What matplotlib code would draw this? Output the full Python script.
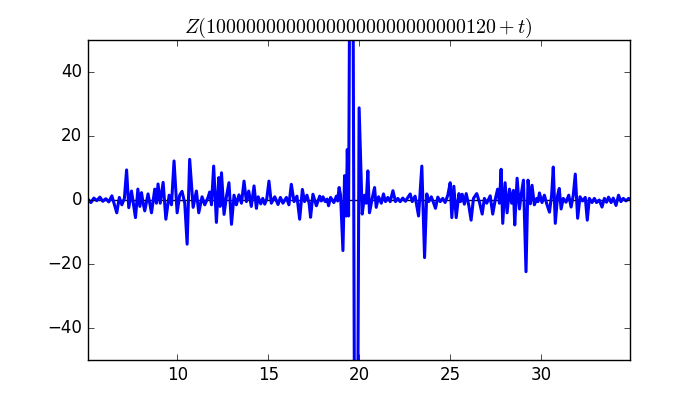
import matplotlib
matplotlib.use("Agg")
import matplotlib.pyplot as plt

# values (t, Z)
t = [5.08, 5.25, 5.41, 5.57, 5.74, 5.90, 6.07, 6.23, 6.40, 6.54,
     6.67, 6.81, 6.95, 7.09, 7.21, 7.33, 7.48, 7.58, 7.70, 7.83,
     7.94, 8.03, 8.12, 8.21, 8.39, 8.58, 8.76, 8.85, 8.94, 9.06,
     9.22, 9.37, 9.55, 9.68, 9.82, 9.99, 10.13, 10.26, 10.41, 10.54,
     10.68, 10.87, 11.05, 11.18, 11.36, 11.51, 11.69, 11.78, 11.88, 12.00,
     12.15, 12.28, 12.35, 12.43, 12.57, 12.70, 12.84, 12.98, 13.12, 13.25,
     13.39, 13.53, 13.67, 13.80, 13.93, 14.07, 14.22, 14.35, 14.45, 14.59,
     14.70, 14.81, 14.92, 15.04, 15.17, 15.36, 15.54, 15.67, 15.81, 16.00,
     16.14, 16.27, 16.42, 16.58, 16.73, 16.88, 17.00, 17.13, 17.25, 17.33,
     17.46, 17.65, 17.83, 17.92, 18.01, 18.14, 18.24, 18.32, 18.43, 18.61,
     18.75, 18.82, 18.90, 18.98, 19.11, 19.20, 19.29, 19.35, 19.42, 19.59,
     19.82, 20.00, 20.17, 20.30, 20.39, 20.48, 20.57, 20.72, 20.85, 20.94,
     21.07, 21.22, 21.34, 21.45, 21.58, 21.71, 21.86, 22.00, 22.13, 22.26,
     22.40, 22.55, 22.68, 22.81, 22.92, 23.08, 23.27, 23.45, 23.60, 23.72,
     23.83, 23.97, 24.09, 24.20, 24.33, 24.46, 24.60, 24.73, 24.88, 25.01,
     25.10, 25.21, 25.34, 25.49, 25.58, 25.67, 25.79, 25.89, 26.03, 26.16,
     26.29, 26.47, 26.62, 26.77, 26.89, 27.02, 27.21, 27.35, 27.50, 27.62,
     27.72, 27.81, 27.90, 28.03, 28.14, 28.27, 28.39, 28.49, 28.56, 28.69,
     28.82, 28.91, 29.04, 29.18, 29.29, 29.42, 29.51, 29.64, 29.77, 29.84,
     29.92, 30.06, 30.19, 30.32, 30.47, 30.59, 30.68, 30.79, 30.92, 31.01,
     31.11, 31.23, 31.38, 31.53, 31.66, 31.78, 31.89, 32.02, 32.15, 32.29,
     32.44, 32.55, 32.66, 32.81, 32.94, 33.06, 33.21, 33.36, 33.49, 33.61,
     33.72, 33.86, 33.98, 34.13, 34.27, 34.40, 34.53, 34.68, 34.82, 34.92]

z = [0.3, -0.8, 0.6, -0.2, 0.9, -0.4, 0.4, -0.6, 1.3, -1.5,
     -4.0, 0.8, -1.5, 0.5, 9.4, -2.4, 2.8, -1.0, -5.5, 3.4,
     -2.0, 2.3, -1.0, -3.4, 1.9, -4.0, 3.4, -1.0, 5.0, -1.0,
     5.5, -6.0, 1.5, -1.5, 12.2, -4.0, 1.5, 2.7, -1.0, -13.8,
     12.7, -2.3, 2.8, -4.0, 1.0, -1.5, 0.8, 2.5, -1.5, 10.6,
     -7.0, 7.0, -2.0, 8.5, -4.5, 1.0, 5.4, -7.6, 1.5, -1.5,
     1.6, -1.0, 5.9, -0.5, 2.8, -2.0, 4.4, -2.6, 1.0, -1.2,
     0.5, -1.3, 0.3, 5.9, -1.0, 1.0, -1.4, 0.8, -1.0, 0.8,
     -1.5, 4.9, -0.5, 1.2, -6.0, 3.3, -0.5, 1.5, -1.0, -5.4,
     1.8, -1.8, 1.2, -0.3, 1.0, -0.5, 0.3, -1.8, 0.8, -0.8,
     1.2, -0.3, 3.9, 1.5, -15.8, 7.6, -5.0, 15.8, -5.0, 200.0,
     -200.0, 28.8, -4.4, 1.5, -1.0, 9.1, -4.0, 0.5, 3.9, -2.3,
     1.0, -1.0, 1.9, -0.5, 0.8, -0.5, 2.9, -0.5, 0.5, -0.5,
     0.6, -0.4, 0.8, 1.9, -0.5, 1.2, -5.0, 10.6, -18.0, 1.9,
     -0.5, 1.0, -0.8, -2.6, 0.9, -0.5, 0.5, -0.8, 1.5, 5.4,
     -5.5, 4.3, -5.5, 2.0, -0.5, 1.8, -1.3, 2.0, -1.6, -6.3,
     0.5, 2.0, -0.7, -4.4, 0.5, -1.0, 1.3, -4.4, 0.5, 3.4,
     -1.0, 9.6, -7.3, 5.4, -4.0, 3.4, -1.0, 3.0, -7.8, 6.8,
     -2.8, 1.5, 6.2, -22.4, 6.2, -1.2, 4.6, -1.5, 0.5, -0.5,
     2.2, -0.8, 1.5, -1.2, -3.8, 1.5, 10.3, -7.3, 1.5, 3.6,
     -2.8, 0.5, -0.7, 1.5, -2.2, 1.5, 8.1, -5.7, 1.0, -0.3,
     0.8, -6.3, 0.5, -0.8, 0.5, -0.8, 0.0, -2.2, 0.5, -0.7,
     0.9, -0.8, 0.6, -1.7, 1.5, -0.5, 0.5, -0.3, 0.5, 0.2]

title = r"$Z(10000000000000000000000000120+t)$"
xticks = [10, 15, 20, 25, 30]
yticks = [-40, -20, 0, 20, 40]

plt.style.use("classic")
fig, ax = plt.subplots(figsize=(7, 4), dpi=100)
ax.axhline(0, color="k", lw=1)
ax.plot(t, z, color="b", lw=2.2)
ax.set_xlim(5.06, 34.9)
ax.set_ylim(-50, 50)
ax.set_xticks(xticks)
ax.set_yticks(yticks)
ax.set_title(title)
fig.savefig("out.png", dpi=100, facecolor="white")
